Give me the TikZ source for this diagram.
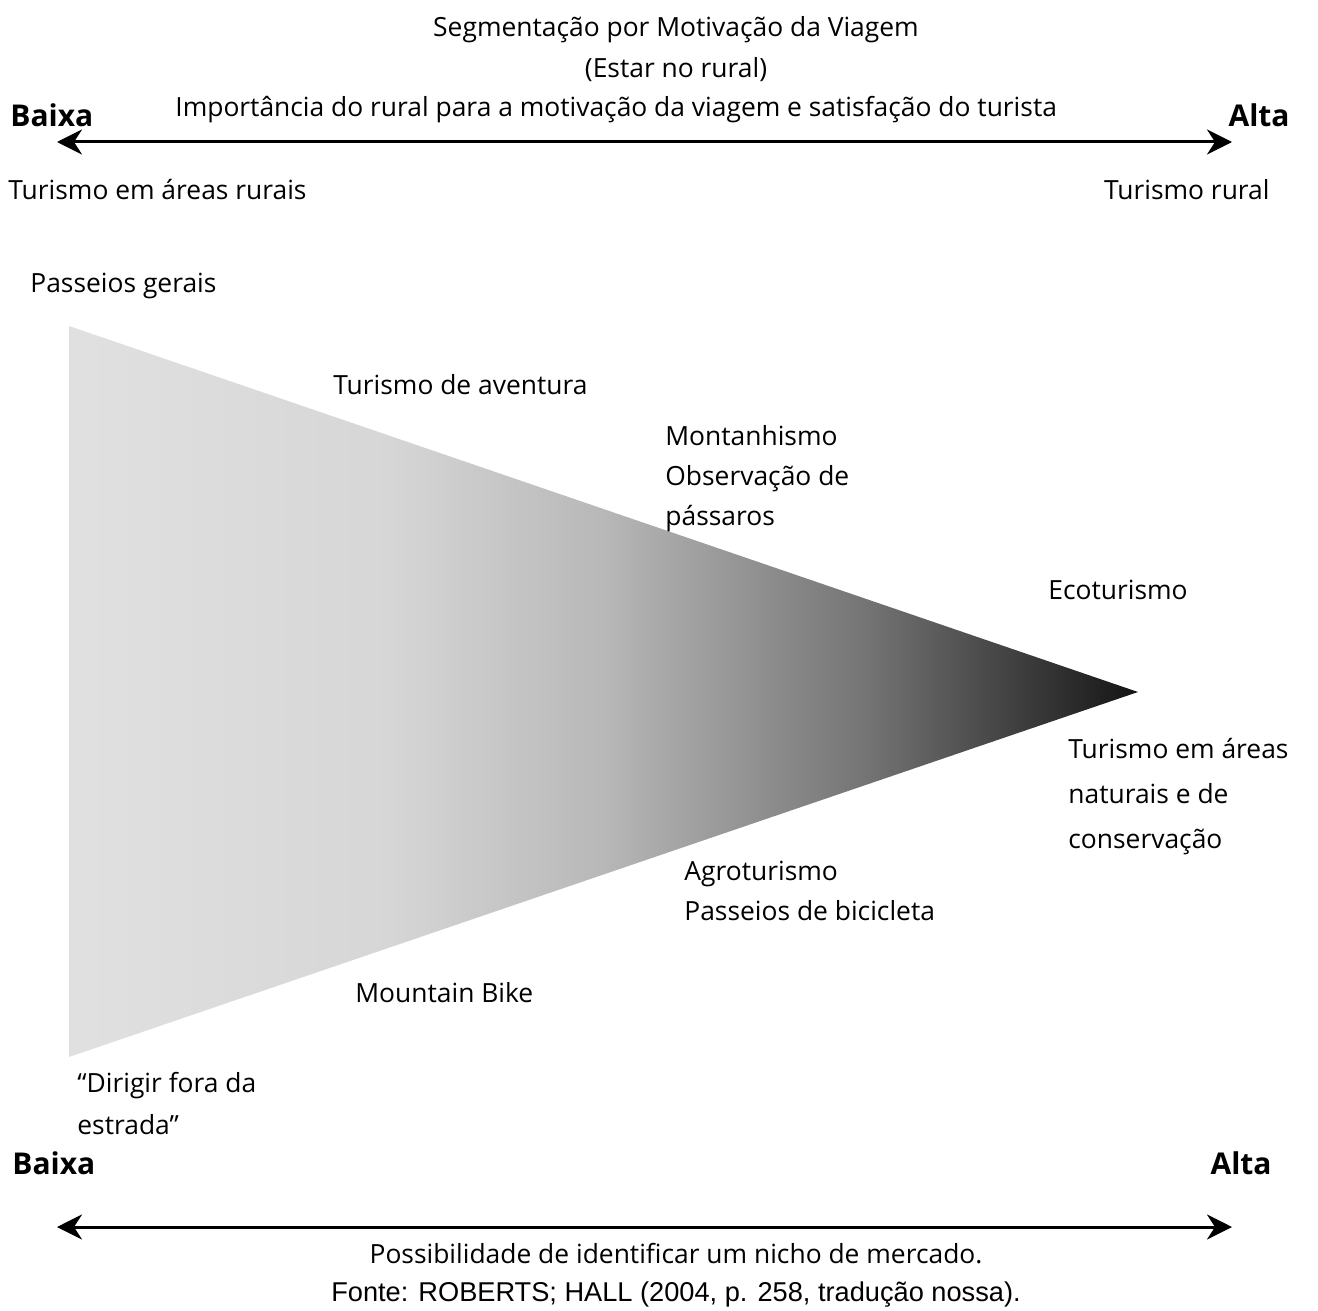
\documentclass[tikz,border=0pt]{standalone}
\usepackage{fontspec}
\setmainfont{Open Sans}
\newfontfamily\arialfont{Liberation Sans}
\usetikzlibrary{arrows.meta}
\pgfdeclarehorizontalshading{conegrad}{100bp}{%
  rgb(0bp)=(0.88,0.88,0.88);
  rgb(25bp)=(0.88,0.88,0.88);
  rgb(40bp)=(0.84,0.84,0.84);
  rgb(50bp)=(0.72,0.72,0.72);
  rgb(62.5bp)=(0.45,0.45,0.45);
  rgb(75bp)=(0.08,0.08,0.08);
  rgb(100bp)=(0.08,0.08,0.08)}
\begin{document}
\begin{tikzpicture}[x=0.5pt,y=-0.5pt,
  lbl/.style={inner sep=0pt, font=\fontsize{13.2}{20}\selectfont, align=left},
  endlbl/.style={inner sep=0pt, font=\fontsize{15}{20}\selectfont\bfseries},
  axisarrow/.style={line width=1.5pt, {Stealth[length=12.5pt,width=12.5pt,inset=4pt]}-{Stealth[length=12.5pt,width=12.5pt,inset=4pt]}}
]
\useasboundingbox (0,0) rectangle (1318,1311);
% cone
\path[shading=conegrad] (69,326) -- (1138,692) -- (69,1057) -- cycle;
% top axis
\coordinate (tl) at (57,142);
\coordinate (tr) at (1232,142);
\draw[axisarrow] (tl) -- (tr);
% bottom axis
\coordinate (bl) at (57,1227);
\coordinate (br) at (1232,1227);
\draw[axisarrow] (bl) -- (br);
% texts
\node[lbl] (t1) at (676,30) {Segmentação por Motivação da Viagem};
\node[lbl] (t2) at (676,70) {(Estar no rural)};
\node[endlbl, anchor=west] (b1) at (10,115) {Baixa};
\node[lbl, anchor=west] (imp) at (175,110) {Importância do rural para a motivação da viagem e satisfação do turista};
\node[endlbl, anchor=east] (a1) at (1290,115) {Alta};
\node[lbl, anchor=west] (tar) at (8,190) {Turismo em áreas rurais};
\node[lbl, anchor=east] (tr2) at (1270,190) {Turismo rural};
\node[lbl, anchor=west] (pg) at (30,286) {Passeios gerais};
\node[lbl, anchor=west] (ta) at (333,385) {Turismo de aventura};
\node[lbl, anchor=west] (mo) at (665,479) {Montanhismo\\Observação de\\pássaros};
\node[lbl, anchor=west] (eco) at (1048,590) {Ecoturismo};
\node[lbl, anchor=west, font=\fontsize{13.2}{22.5}\selectfont] (tan) at (1068,797) {Turismo em áreas\\naturais e de\\conservação};
\node[lbl, anchor=west] (agro) at (684,891) {Agroturismo\\Passeios de bicicleta};
\node[lbl, anchor=west] (mb) at (355,993) {Mountain Bike};
\node[lbl, anchor=west, font=\fontsize{13.2}{21}\selectfont] (dir) at (77,1104) {“Dirigir fora da\\estrada”};
\node[endlbl, anchor=west] (b2) at (12,1163) {Baixa};
\node[endlbl, anchor=east] (a2) at (1272,1163) {Alta};
\node[lbl] (pos) at (676,1254) {Possibilidade de identificar um nicho de mercado.};
\node[inner sep=0pt, font=\arialfont\fontsize{13.6}{15}\selectfont] (fonte) at (676,1295) {Fonte: ROBERTS; HALL (2004, p. 258, tradução nossa).};
\end{tikzpicture}
\end{document}
